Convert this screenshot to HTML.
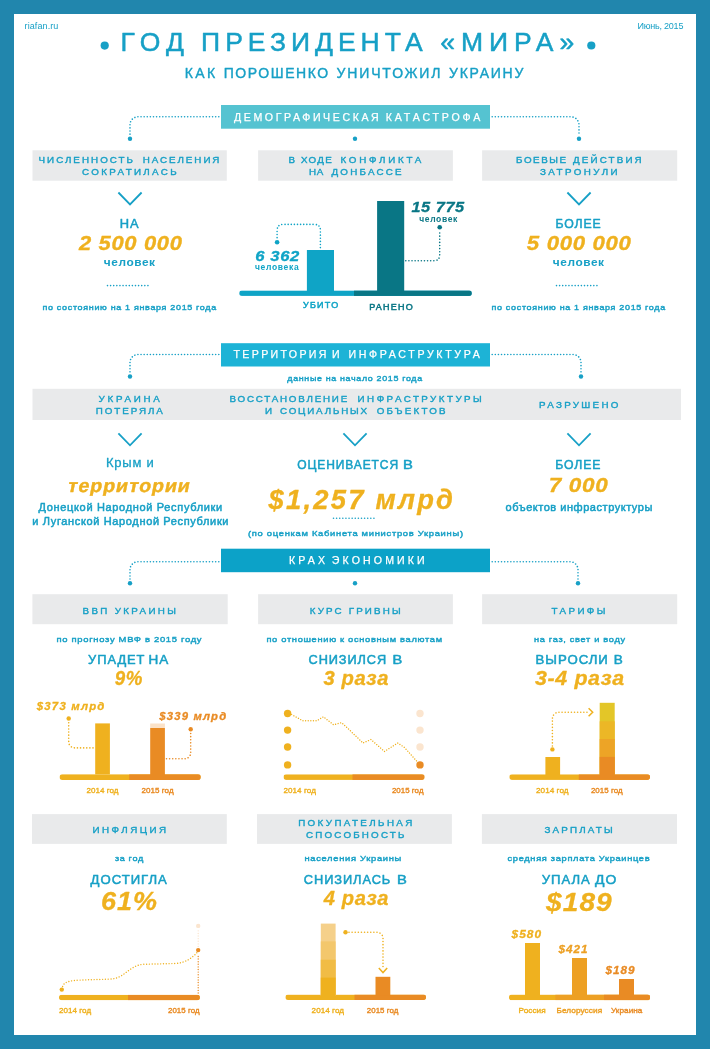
<!DOCTYPE html>
<html lang="ru"><head><meta charset="utf-8"><title>Год президента «мира»</title>
<style>html,body{margin:0;padding:0;background:#2186ad}svg{display:block;font-family:"Liberation Sans",sans-serif}text{white-space:pre}</style></head>
<body><svg width="710" height="1049" viewBox="0 0 710 1049">
<rect x="0" y="0" width="710" height="1049" fill="#2186ad"/>
<rect x="14" y="14" width="682" height="1021" fill="#fff"/>
<circle cx="104.7" cy="45.6" r="4.1" fill="#17a0c6"/>
<circle cx="591.3" cy="45.5" r="4.1" fill="#17a0c6"/>
<rect x="221" y="105" width="269" height="23.7" fill="#55c3d1"/>
<path d="M218.8 116.8 H138 A8 8 0 0 0 130 124.8 V135.8" fill="none" stroke="#17a0c6" stroke-width="1.6" stroke-linecap="round" stroke-dasharray="0.01 3.1"/>
<path d="M492.2 116.8 H571 A8 8 0 0 1 579 124.8 V135.8" fill="none" stroke="#17a0c6" stroke-width="1.6" stroke-linecap="round" stroke-dasharray="0.01 3.1"/>
<circle cx="130" cy="138.8" r="2.2" fill="#17a0c6"/>
<circle cx="355" cy="138.8" r="2.2" fill="#17a0c6"/>
<circle cx="579" cy="138.8" r="2.2" fill="#17a0c6"/>
<rect x="32.5" y="150.3" width="194.3" height="30.4" fill="#e9eaeb"/>
<rect x="258.1" y="150.3" width="194.8" height="30.4" fill="#e9eaeb"/>
<rect x="482.1" y="150.3" width="195.1" height="30.4" fill="#e9eaeb"/>
<path d="M118.4 192.5 L130 204.5 L141.6 192.5" fill="none" stroke="#17a0c6" stroke-width="1.8"/>
<path d="M567.4 192.5 L579 204.5 L590.6 192.5" fill="none" stroke="#17a0c6" stroke-width="1.8"/>
<path d="M107.5 285.6 H151" fill="none" stroke="#17a0c6" stroke-width="1.6" stroke-linecap="round" stroke-dasharray="0.01 3.1"/>
<path d="M556.5 285.6 H600" fill="none" stroke="#17a0c6" stroke-width="1.6" stroke-linecap="round" stroke-dasharray="0.01 3.1"/>
<clipPath id="c17"><rect x="239.2" y="290.4" width="232.6" height="5.5" rx="2.75"/></clipPath>
<g clip-path="url(#c17)"><rect x="239.2" y="290.4" width="232.6" height="5.5" fill="#0fa4c6"/><rect x="354" y="290.4" width="117.8" height="5.5" fill="#097685"/></g>
<rect x="306.9" y="250" width="27.1" height="41" fill="#0fa4c6"/>
<rect x="377.1" y="201" width="27.1" height="90" fill="#097685"/>
<path d="M320.4 247.6 V230.5 Q320.4 224.4 314.3 224.4 H283.2 Q277.1 224.4 277.1 230.5 V239" fill="none" stroke="#0fa4c6" stroke-width="1.6" stroke-linecap="round" stroke-dasharray="0.01 3.1"/>
<circle cx="277.1" cy="242.2" r="2.3" fill="#0fa4c6"/>
<path d="M405.8 260.8 H433.6 Q439.7 260.8 439.7 254.7 V230.5" fill="none" stroke="#097685" stroke-width="1.6" stroke-linecap="round" stroke-dasharray="0.01 3.1"/>
<circle cx="439.7" cy="227.2" r="2.3" fill="#097685"/>
<rect x="221" y="343.2" width="269" height="23.3" fill="#1db3d6"/>
<path d="M218.8 354.5 H138 A8 8 0 0 0 130 362.5 V373.5" fill="none" stroke="#17a0c6" stroke-width="1.6" stroke-linecap="round" stroke-dasharray="0.01 3.1"/>
<path d="M492.2 354.5 H573 A8 8 0 0 1 581 362.5 V373.5" fill="none" stroke="#17a0c6" stroke-width="1.6" stroke-linecap="round" stroke-dasharray="0.01 3.1"/>
<circle cx="130" cy="376.5" r="2.2" fill="#17a0c6"/>
<circle cx="581" cy="376.5" r="2.2" fill="#17a0c6"/>
<rect x="32.5" y="388.8" width="648.5" height="31.2" fill="#e9eaeb"/>
<path d="M118.4 433.3 L130 445.3 L141.6 433.3" fill="none" stroke="#17a0c6" stroke-width="1.8"/>
<path d="M343.4 433.3 L355 445.3 L366.6 433.3" fill="none" stroke="#17a0c6" stroke-width="1.8"/>
<path d="M567.4 433.3 L579 445.3 L590.6 433.3" fill="none" stroke="#17a0c6" stroke-width="1.8"/>
<path d="M333.5 518.2 H376" fill="none" stroke="#17a0c6" stroke-width="1.6" stroke-linecap="round" stroke-dasharray="0.01 3.1"/>
<rect x="221" y="548.7" width="269" height="23.5" fill="#0ca2c8"/>
<path d="M218.8 561.7 H138 A8 8 0 0 0 130 569.7 V580.3" fill="none" stroke="#17a0c6" stroke-width="1.6" stroke-linecap="round" stroke-dasharray="0.01 3.1"/>
<path d="M492.2 561.7 H570 A8 8 0 0 1 578 569.7 V580.3" fill="none" stroke="#17a0c6" stroke-width="1.6" stroke-linecap="round" stroke-dasharray="0.01 3.1"/>
<circle cx="130" cy="583.3" r="2.2" fill="#17a0c6"/>
<circle cx="355" cy="583.3" r="2.2" fill="#17a0c6"/>
<circle cx="578" cy="583.3" r="2.2" fill="#17a0c6"/>
<rect x="32.4" y="594.2" width="195.3" height="30" fill="#e9eaeb"/>
<rect x="258.1" y="594.2" width="194.8" height="30" fill="#e9eaeb"/>
<rect x="482.1" y="594.2" width="195.1" height="30" fill="#e9eaeb"/>
<clipPath id="c44"><rect x="59.5" y="774.2" width="141.3" height="5.8" rx="2.9"/></clipPath>
<g clip-path="url(#c44)"><rect x="59.5" y="774.2" width="141.3" height="5.8" fill="#efb11f"/><rect x="129.2" y="774.2" width="71.6" height="5.8" fill="#e98b24"/></g>
<rect x="95.2" y="723.4" width="14.7" height="51" fill="#efb11f"/>
<rect x="150.2" y="728" width="14.7" height="47" fill="#e98b24"/>
<rect x="150.2" y="723.5" width="14.7" height="4.5" fill="#fbe2c8"/>
<path d="M93 747.9 H74.7 A6 6 0 0 1 68.7 741.9 V722" fill="none" stroke="#efb11f" stroke-width="1.6" stroke-linecap="round" stroke-dasharray="0.01 3.1"/>
<circle cx="68.7" cy="718.5" r="2.2" fill="#efb11f"/>
<path d="M166.5 758.8 H184.7 A6 6 0 0 0 190.7 752.8 V732.5" fill="none" stroke="#e98b24" stroke-width="1.6" stroke-linecap="round" stroke-dasharray="0.01 3.1"/>
<circle cx="190.7" cy="729.2" r="2.2" fill="#e98b24"/>
<clipPath id="c53"><rect x="283.5" y="774.3" width="141.1" height="5.6" rx="2.8"/></clipPath>
<g clip-path="url(#c53)"><rect x="283.5" y="774.3" width="141.1" height="5.6" fill="#efb11f"/><rect x="352.5" y="774.3" width="72.1" height="5.6" fill="#e98b24"/></g>
<circle cx="287.6" cy="713.5" r="3.7" fill="#efb11f"/>
<circle cx="287.6" cy="730.1" r="3.7" fill="#efb11f"/>
<circle cx="287.6" cy="747" r="3.7" fill="#efb11f"/>
<circle cx="287.6" cy="764.9" r="3.7" fill="#efb11f"/>
<circle cx="420" cy="713.5" r="3.7" fill="#fbe5cf"/>
<circle cx="420" cy="730.1" r="3.7" fill="#fbe5cf"/>
<circle cx="420" cy="747" r="3.7" fill="#fbe5cf"/>
<circle cx="420" cy="764.9" r="3.7" fill="#e98b24"/>
<path d="M291.6 714.5 L302.8 720.8 L316.7 720.8 L323.4 716.8 L333.6 724.8 L341.6 722.6 L348.3 728.8 L363 743 L371 739.5 L384.4 751.5 L397.8 743 L404.5 747.5 L417.5 762" fill="none" stroke="#efb11f" stroke-width="1.4" stroke-linecap="round" stroke-dasharray="0.01 2.6"/>
<clipPath id="c64"><rect x="509.3" y="774.3" width="140.7" height="5.6" rx="2.8"/></clipPath>
<g clip-path="url(#c64)"><rect x="509.3" y="774.3" width="140.7" height="5.6" fill="#efb11f"/><rect x="578.8" y="774.3" width="71.2" height="5.6" fill="#e98b24"/></g>
<rect x="545.4" y="757" width="14.7" height="18" fill="#efb11f"/>
<rect x="599.7" y="702.8" width="15" height="72.2" fill="#e3c628"/>
<rect x="599.7" y="721.3" width="15" height="53.7" fill="#ecb726"/>
<rect x="599.7" y="739" width="15" height="36" fill="#eda426"/>
<rect x="599.7" y="756.9" width="15" height="18.1" fill="#e98b24"/>
<path d="M552.4 746 V718.7 A6.5 6.5 0 0 1 558.9 712.2 H587" fill="none" stroke="#efb11f" stroke-width="1.6" stroke-linecap="round" stroke-dasharray="0.01 3.1"/>
<circle cx="552.4" cy="749.4" r="2.2" fill="#efb11f"/>
<path d="M588.6 708.2 L592.7 712.2 L588.6 716.2" fill="none" stroke="#efb11f" stroke-width="1.5"/>
<rect x="32" y="814.1" width="194.8" height="29.8" fill="#e9eaeb"/>
<rect x="257" y="814.1" width="194.9" height="29.8" fill="#e9eaeb"/>
<rect x="481.9" y="814.1" width="195.1" height="29.8" fill="#e9eaeb"/>
<clipPath id="c77"><rect x="59" y="994.8" width="140.9" height="5.5" rx="2.75"/></clipPath>
<g clip-path="url(#c77)"><rect x="59" y="994.8" width="140.9" height="5.5" fill="#efb11f"/><rect x="128" y="994.8" width="71.9" height="5.5" fill="#e98b24"/></g>
<circle cx="61.8" cy="989.6" r="2.2" fill="#efb11f"/>
<path d="M62.6 986.5 C64 982 70 980.4 80 980.1 L110 979.1 C125 978.6 128 966 143 964.3 L175 963.5 C186 963.1 193 957 197 952.5" fill="none" stroke="#efb11f" stroke-width="1.4" stroke-linecap="round" stroke-dasharray="0.01 2.8"/>
<path d="M198.2 993 V954" fill="none" stroke="#e98b24" stroke-width="1.4" stroke-linecap="round" stroke-dasharray="0.01 2.6"/>
<circle cx="198.2" cy="950.1" r="2.2" fill="#e98b24"/>
<path d="M198.2 946.5 V929" fill="none" stroke="#fbe5cf" stroke-width="1.4" stroke-linecap="round" stroke-dasharray="0.01 2.6"/>
<circle cx="198.2" cy="925.9" r="2.2" fill="#fbe5cf"/>
<clipPath id="c85"><rect x="285.4" y="994.6" width="140.6" height="5.4" rx="2.7"/></clipPath>
<g clip-path="url(#c85)"><rect x="285.4" y="994.6" width="140.6" height="5.4" fill="#efb11f"/><rect x="354.5" y="994.6" width="71.5" height="5.4" fill="#e98b24"/></g>
<rect x="320.8" y="923.6" width="14.8" height="72.4" fill="#f5d08a"/>
<rect x="320.8" y="941.4" width="14.8" height="54.6" fill="#f3c76c"/>
<rect x="320.8" y="959.7" width="14.8" height="36.3" fill="#f1bc45"/>
<rect x="320.8" y="977.6" width="14.8" height="18.4" fill="#efb11f"/>
<rect x="375.5" y="976.8" width="14.8" height="19" fill="#e98b24"/>
<path d="M349 932.3 H377 A6 6 0 0 1 383 938.3 V967" fill="none" stroke="#efb11f" stroke-width="1.6" stroke-linecap="round" stroke-dasharray="0.01 3.1"/>
<circle cx="345.5" cy="932.3" r="2.2" fill="#efb11f"/>
<path d="M378.8 968 L383 972.6 L387.2 968" fill="none" stroke="#efb11f" stroke-width="1.5"/>
<clipPath id="c95"><rect x="509" y="994.6" width="141" height="5.6" rx="2.8"/></clipPath>
<g clip-path="url(#c95)"><rect x="509" y="994.6" width="141" height="5.6" fill="#efb11f"/><rect x="555.4" y="994.6" width="94.6" height="5.6" fill="#eda024"/><rect x="604" y="994.6" width="46" height="5.6" fill="#e98b24"/></g>
<rect x="525" y="943" width="15" height="53" fill="#efb11f"/>
<rect x="572" y="958" width="15" height="38" fill="#eda024"/>
<rect x="619" y="979" width="15" height="17" fill="#e98b24"/>
<text x="24.60" y="29" font-size="9" fill="#17a0c6" letter-spacing="0.087">riafan.ru</text>
<text x="637.50" y="29" font-size="9" fill="#17a0c6" letter-spacing="-0.222">Июнь, 2015</text>
<text x="120.50" y="51.4" font-size="26.5" fill="#17a0c6" stroke="#17a0c6" stroke-width="0.5" stroke-linejoin="round" letter-spacing="6.300">ГОД</text>
<text x="201.10" y="51.4" font-size="26.5" fill="#17a0c6" stroke="#17a0c6" stroke-width="0.5" stroke-linejoin="round" letter-spacing="5.000">ПРЕЗИДЕНТА</text>
<text x="440.30" y="51.4" font-size="26.5" fill="#17a0c6" stroke="#17a0c6" stroke-width="0.5" stroke-linejoin="round" letter-spacing="5.940">«МИРА»</text>
<text x="184.70" y="78" font-size="14" fill="#17a0c6" stroke="#17a0c6" stroke-width="0.4" stroke-linejoin="round" letter-spacing="2.400">КАК</text>
<text x="223.70" y="78" font-size="14" fill="#17a0c6" stroke="#17a0c6" stroke-width="0.4" stroke-linejoin="round" letter-spacing="1.550">ПОРОШЕНКО</text>
<text x="336.50" y="78" font-size="14" fill="#17a0c6" stroke="#17a0c6" stroke-width="0.4" stroke-linejoin="round" letter-spacing="1.862">УНИЧТОЖИЛ</text>
<text x="449.10" y="78" font-size="14" fill="#17a0c6" stroke="#17a0c6" stroke-width="0.4" stroke-linejoin="round" letter-spacing="1.733">УКРАИНУ</text>
<text x="234.00" y="121" font-size="10.6" fill="#fff" stroke="#fff" stroke-width="0.25" stroke-linejoin="round" letter-spacing="2.593">ДЕМОГРАФИЧЕСКАЯ</text>
<text x="385.80" y="121" font-size="10.6" fill="#fff" stroke="#fff" stroke-width="0.25" stroke-linejoin="round" letter-spacing="2.822">КАТАСТРОФА</text>
<text x="38.50" y="163" font-size="9.8" fill="#17a0c6" stroke="#17a0c6" stroke-width="0.4" stroke-linejoin="round" letter-spacing="2.030">ЧИСЛЕННОСТЬ</text>
<text x="142.70" y="163" font-size="9.8" fill="#17a0c6" stroke="#17a0c6" stroke-width="0.4" stroke-linejoin="round" letter-spacing="1.950">НАСЕЛЕНИЯ</text>
<text x="82.10" y="175" font-size="9.8" fill="#17a0c6" stroke="#17a0c6" stroke-width="0.4" stroke-linejoin="round" letter-spacing="2.340">СОКРАТИЛАСЬ</text>
<text x="288.40" y="163" font-size="9.8" fill="#17a0c6" stroke="#17a0c6" stroke-width="0.4" stroke-linejoin="round" letter-spacing="0.000">В</text>
<text x="301.00" y="163" font-size="9.8" fill="#17a0c6" stroke="#17a0c6" stroke-width="0.4" stroke-linejoin="round" letter-spacing="1.333">ХОДЕ</text>
<text x="340.50" y="163" font-size="9.8" fill="#17a0c6" stroke="#17a0c6" stroke-width="0.4" stroke-linejoin="round" letter-spacing="2.763">КОНФЛИКТА</text>
<text x="309.00" y="175" font-size="9.8" fill="#17a0c6" stroke="#17a0c6" stroke-width="0.4" stroke-linejoin="round" letter-spacing="0.600">НА</text>
<text x="331.50" y="175" font-size="9.8" fill="#17a0c6" stroke="#17a0c6" stroke-width="0.4" stroke-linejoin="round" letter-spacing="2.214">ДОНБАССЕ</text>
<text x="516.00" y="163" font-size="9.8" fill="#17a0c6" stroke="#17a0c6" stroke-width="0.4" stroke-linejoin="round" letter-spacing="1.580">БОЕВЫЕ</text>
<text x="573.00" y="163" font-size="9.8" fill="#17a0c6" stroke="#17a0c6" stroke-width="0.4" stroke-linejoin="round" letter-spacing="2.157">ДЕЙСТВИЯ</text>
<text x="540.00" y="175" font-size="9.8" fill="#17a0c6" stroke="#17a0c6" stroke-width="0.4" stroke-linejoin="round" letter-spacing="2.438">ЗАТРОНУЛИ</text>
<text transform="translate(119.65 228) scale(1.0473 1)" font-size="12.3" fill="#17a0c6" stroke="#17a0c6" stroke-width="0.5" stroke-linejoin="round" letter-spacing="0.900">НА</text>
<text transform="translate(78.93 250.3) scale(1.1261 1)" font-size="19.5" font-weight="bold" font-style="italic" fill="#efb11f" stroke="#efb11f" stroke-width="0.3" stroke-linejoin="round" letter-spacing="0.600">2 500 000</text>
<text transform="translate(103.80 265.7) scale(1.1022 1)" font-size="10.8" font-weight="bold" fill="#17a0c6" letter-spacing="0.500">человек</text>
<text transform="translate(42.50 309.6) scale(1.1097 1)" font-size="8.1" fill="#17a0c6" stroke="#17a0c6" stroke-width="0.42" stroke-linejoin="round" letter-spacing="0.600">по состоянию на 1 января 2015 года</text>
<text transform="translate(555.50 228) scale(0.9978 1)" font-size="12.3" fill="#17a0c6" stroke="#17a0c6" stroke-width="0.5" stroke-linejoin="round" letter-spacing="0.900">БОЛЕЕ</text>
<text transform="translate(526.80 250.3) scale(1.1383 1)" font-size="19.5" font-weight="bold" font-style="italic" fill="#efb11f" stroke="#efb11f" stroke-width="0.3" stroke-linejoin="round" letter-spacing="0.600">5 000 000</text>
<text transform="translate(552.80 265.7) scale(1.1022 1)" font-size="10.8" font-weight="bold" fill="#17a0c6" letter-spacing="0.500">человек</text>
<text transform="translate(491.50 309.6) scale(1.1097 1)" font-size="8.1" fill="#17a0c6" stroke="#17a0c6" stroke-width="0.42" stroke-linejoin="round" letter-spacing="0.600">по состоянию на 1 января 2015 года</text>
<text transform="translate(255.30 260.5) scale(1.1256 1)" font-size="14.8" font-weight="bold" font-style="italic" fill="#0fa4c6" stroke="#0fa4c6" stroke-width="0.3" stroke-linejoin="round" letter-spacing="0.500">6 362</text>
<text x="254.90" y="270" font-size="8.5" font-weight="bold" fill="#0fa4c6" letter-spacing="0.686">человека</text>
<text transform="translate(411.40 212) scale(1.1052 1)" font-size="14.8" font-weight="bold" font-style="italic" fill="#097685" stroke="#097685" stroke-width="0.3" stroke-linejoin="round" letter-spacing="0.500">15 775</text>
<text x="419.20" y="221.5" font-size="8.5" font-weight="bold" fill="#097685" letter-spacing="0.650">человек</text>
<text x="302.90" y="308" font-size="9" fill="#0fa4c6" stroke="#0fa4c6" stroke-width="0.5" stroke-linejoin="round" letter-spacing="1.275">УБИТО</text>
<text x="369.20" y="310" font-size="9" fill="#097685" stroke="#097685" stroke-width="0.5" stroke-linejoin="round" letter-spacing="1.220">РАНЕНО</text>
<text x="233.50" y="358" font-size="10.6" fill="#fff" stroke="#fff" stroke-width="0.25" stroke-linejoin="round" letter-spacing="2.344">ТЕРРИТОРИЯ</text>
<text x="332.10" y="358" font-size="10.6" fill="#fff" stroke="#fff" stroke-width="0.25" stroke-linejoin="round" letter-spacing="0.000">И</text>
<text x="348.40" y="358" font-size="10.6" fill="#fff" stroke="#fff" stroke-width="0.25" stroke-linejoin="round" letter-spacing="2.677">ИНФРАСТРУКТУРА</text>
<text transform="translate(287.30 380.5) scale(1.1008 1)" font-size="8.1" fill="#17a0c6" stroke="#17a0c6" stroke-width="0.42" stroke-linejoin="round" letter-spacing="0.600">данные на начало 2015 года</text>
<text x="98.60" y="402" font-size="9.8" fill="#17a0c6" stroke="#17a0c6" stroke-width="0.4" stroke-linejoin="round" letter-spacing="2.683">УКРАИНА</text>
<text x="95.70" y="414" font-size="9.8" fill="#17a0c6" stroke="#17a0c6" stroke-width="0.4" stroke-linejoin="round" letter-spacing="1.943">ПОТЕРЯЛА</text>
<text x="229.50" y="402" font-size="9.8" fill="#17a0c6" stroke="#17a0c6" stroke-width="0.4" stroke-linejoin="round" letter-spacing="1.777">ВОССТАНОВЛЕНИЕ</text>
<text x="357.60" y="402" font-size="9.8" fill="#17a0c6" stroke="#17a0c6" stroke-width="0.4" stroke-linejoin="round" letter-spacing="2.462">ИНФРАСТРУКТУРЫ</text>
<text x="264.90" y="414" font-size="9.8" fill="#17a0c6" stroke="#17a0c6" stroke-width="0.4" stroke-linejoin="round" letter-spacing="0.000">И</text>
<text x="280.00" y="414" font-size="9.8" fill="#17a0c6" stroke="#17a0c6" stroke-width="0.4" stroke-linejoin="round" letter-spacing="1.822">СОЦИАЛЬНЫХ</text>
<text x="376.70" y="414" font-size="9.8" fill="#17a0c6" stroke="#17a0c6" stroke-width="0.4" stroke-linejoin="round" letter-spacing="2.200">ОБЪЕКТОВ</text>
<text x="539.00" y="408" font-size="9.8" fill="#17a0c6" stroke="#17a0c6" stroke-width="0.4" stroke-linejoin="round" letter-spacing="2.312">РАЗРУШЕНО</text>
<text x="106.00" y="467" font-size="13" fill="#17a0c6" stroke="#17a0c6" stroke-width="0.3" stroke-linejoin="round" letter-spacing="0.760">Крым и</text>
<text transform="translate(67.08 492) skewX(-11) scale(1.0578 1)" font-size="18.6" font-weight="bold" fill="#efb11f" stroke="#efb11f" stroke-width="0.4" stroke-linejoin="round" letter-spacing="0.800">территории</text>
<text x="38.50" y="511" font-size="11" fill="#17a0c6" stroke="#17a0c6" stroke-width="0.5" stroke-linejoin="round" letter-spacing="0.667">Донецкой Народной Республики</text>
<text x="32.30" y="525" font-size="11" fill="#17a0c6" stroke="#17a0c6" stroke-width="0.5" stroke-linejoin="round" letter-spacing="0.640">и Луганской Народной Республики</text>
<text transform="translate(297.30 469) scale(0.9786 1)" font-size="12.3" fill="#17a0c6" stroke="#17a0c6" stroke-width="0.5" stroke-linejoin="round" letter-spacing="0.900">ОЦЕНИВАЕТСЯ</text>
<text transform="translate(403.10 469) scale(1.2000 1)" font-size="12.3" fill="#17a0c6" stroke="#17a0c6" stroke-width="0.5" stroke-linejoin="round" letter-spacing="0.900">В</text>
<text transform="translate(268.60 509) scale(1.0133 1)" font-size="27" font-weight="bold" font-style="italic" fill="#efb11f" stroke="#efb11f" stroke-width="0.3" stroke-linejoin="round" letter-spacing="2.200">$1,257 млрд</text>
<text transform="translate(248.00 535.5) scale(1.1602 1)" font-size="8.1" fill="#17a0c6" stroke="#17a0c6" stroke-width="0.42" stroke-linejoin="round" letter-spacing="0.600">(по оценкам Кабинета министров Украины)</text>
<text transform="translate(555.30 469) scale(0.9955 1)" font-size="12.3" fill="#17a0c6" stroke="#17a0c6" stroke-width="0.5" stroke-linejoin="round" letter-spacing="0.900">БОЛЕЕ</text>
<text transform="translate(548.65 492) scale(1.1548 1)" font-size="19.5" font-weight="bold" font-style="italic" fill="#efb11f" stroke="#efb11f" stroke-width="0.3" stroke-linejoin="round" letter-spacing="0.600">7 000</text>
<text x="505.60" y="511" font-size="11" fill="#17a0c6" stroke="#17a0c6" stroke-width="0.5" stroke-linejoin="round" letter-spacing="0.536">объектов инфраструктуры</text>
<text x="288.90" y="564" font-size="10.6" fill="#fff" stroke="#fff" stroke-width="0.25" stroke-linejoin="round" letter-spacing="3.167">КРАХ</text>
<text x="331.80" y="564" font-size="10.6" fill="#fff" stroke="#fff" stroke-width="0.25" stroke-linejoin="round" letter-spacing="3.112">ЭКОНОМИКИ</text>
<text x="82.50" y="613.8" font-size="9.8" fill="#17a0c6" stroke="#17a0c6" stroke-width="0.4" stroke-linejoin="round" letter-spacing="2.350">ВВП УКРАИНЫ</text>
<text x="309.70" y="613.8" font-size="9.8" fill="#17a0c6" stroke="#17a0c6" stroke-width="0.4" stroke-linejoin="round" letter-spacing="2.150">КУРС ГРИВНЫ</text>
<text x="551.50" y="613.8" font-size="9.8" fill="#17a0c6" stroke="#17a0c6" stroke-width="0.4" stroke-linejoin="round" letter-spacing="2.400">ТАРИФЫ</text>
<text transform="translate(56.50 642.3) scale(1.1637 1)" font-size="8.1" fill="#17a0c6" stroke="#17a0c6" stroke-width="0.42" stroke-linejoin="round" letter-spacing="0.600">по прогнозу МВФ в 2015 году</text>
<text transform="translate(266.40 642.3) scale(1.1477 1)" font-size="8.1" fill="#17a0c6" stroke="#17a0c6" stroke-width="0.42" stroke-linejoin="round" letter-spacing="0.600">по отношению к основным валютам</text>
<text transform="translate(534.00 642.3) scale(1.1404 1)" font-size="8.1" fill="#17a0c6" stroke="#17a0c6" stroke-width="0.42" stroke-linejoin="round" letter-spacing="0.600">на газ, свет и воду</text>
<text transform="translate(88.10 664) scale(1.0486 1)" font-size="12.3" fill="#17a0c6" stroke="#17a0c6" stroke-width="0.5" stroke-linejoin="round" letter-spacing="0.900">УПАДЕТ</text>
<text transform="translate(148.50 664) scale(1.1006 1)" font-size="12.3" fill="#17a0c6" stroke="#17a0c6" stroke-width="0.5" stroke-linejoin="round" letter-spacing="0.900">НА</text>
<text transform="translate(114.80 685) scale(0.9580 1)" font-size="19.5" font-weight="bold" font-style="italic" fill="#efb11f" stroke="#efb11f" stroke-width="0.3" stroke-linejoin="round" letter-spacing="0.600">9%</text>
<text transform="translate(308.50 664) scale(1.0363 1)" font-size="12.3" fill="#17a0c6" stroke="#17a0c6" stroke-width="0.5" stroke-linejoin="round" letter-spacing="0.900">СНИЗИЛСЯ</text>
<text transform="translate(392.51 664) scale(1.1857 1)" font-size="12.3" fill="#17a0c6" stroke="#17a0c6" stroke-width="0.5" stroke-linejoin="round" letter-spacing="0.900">В</text>
<text transform="translate(323.40 685) scale(1.0371 1)" font-size="19.5" font-weight="bold" font-style="italic" fill="#efb11f" stroke="#efb11f" stroke-width="0.3" stroke-linejoin="round" letter-spacing="0.600">3 раза</text>
<text transform="translate(535.53 664) scale(1.0734 1)" font-size="12.3" fill="#17a0c6" stroke="#17a0c6" stroke-width="0.5" stroke-linejoin="round" letter-spacing="0.900">ВЫРОСЛИ</text>
<text transform="translate(613.80 664) scale(1.1000 1)" font-size="12.3" fill="#17a0c6" stroke="#17a0c6" stroke-width="0.5" stroke-linejoin="round" letter-spacing="0.900">В</text>
<text transform="translate(535.00 685) scale(1.0961 1)" font-size="19.5" font-weight="bold" font-style="italic" fill="#efb11f" stroke="#efb11f" stroke-width="0.3" stroke-linejoin="round" letter-spacing="0.600">3-4 раза</text>
<text transform="translate(36.80 709.5) scale(0.9927 1)" font-size="11.5" font-weight="bold" font-style="italic" fill="#efb11f" stroke="#efb11f" stroke-width="0.3" stroke-linejoin="round" letter-spacing="1.200">$373 млрд</text>
<text transform="translate(159.30 720) scale(0.9825 1)" font-size="11.5" font-weight="bold" font-style="italic" fill="#e98b24" stroke="#e98b24" stroke-width="0.3" stroke-linejoin="round" letter-spacing="1.200">$339 млрд</text>
<text transform="translate(86.40 793) scale(1.0015 1)" font-size="8" fill="#efb11f" stroke="#efb11f" stroke-width="0.38" stroke-linejoin="round" letter-spacing="0.050">2014 год</text>
<text transform="translate(141.50 793) scale(1.0015 1)" font-size="8" fill="#e98b24" stroke="#e98b24" stroke-width="0.38" stroke-linejoin="round" letter-spacing="0.050">2015 год</text>
<text transform="translate(283.50 793) scale(1.0108 1)" font-size="8" fill="#efb11f" stroke="#efb11f" stroke-width="0.38" stroke-linejoin="round" letter-spacing="0.050">2014 год</text>
<text transform="translate(391.90 793) scale(0.9861 1)" font-size="8" fill="#e98b24" stroke="#e98b24" stroke-width="0.38" stroke-linejoin="round" letter-spacing="0.050">2015 год</text>
<text transform="translate(536.00 793) scale(1.0170 1)" font-size="8" fill="#efb11f" stroke="#efb11f" stroke-width="0.38" stroke-linejoin="round" letter-spacing="0.050">2014 год</text>
<text transform="translate(590.90 793) scale(0.9923 1)" font-size="8" fill="#e98b24" stroke="#e98b24" stroke-width="0.38" stroke-linejoin="round" letter-spacing="0.050">2015 год</text>
<text x="92.50" y="833" font-size="9.8" fill="#17a0c6" stroke="#17a0c6" stroke-width="0.4" stroke-linejoin="round" letter-spacing="2.500">ИНФЛЯЦИЯ</text>
<text x="298.20" y="826" font-size="9.8" fill="#17a0c6" stroke="#17a0c6" stroke-width="0.4" stroke-linejoin="round" letter-spacing="2.383">ПОКУПАТЕЛЬНАЯ</text>
<text x="306.10" y="838" font-size="9.8" fill="#17a0c6" stroke="#17a0c6" stroke-width="0.4" stroke-linejoin="round" letter-spacing="2.180">СПОСОБНОСТЬ</text>
<text x="544.50" y="833" font-size="9.8" fill="#17a0c6" stroke="#17a0c6" stroke-width="0.4" stroke-linejoin="round" letter-spacing="2.171">ЗАРПЛАТЫ</text>
<text transform="translate(114.90 861) scale(1.1200 1)" font-size="8.1" fill="#17a0c6" stroke="#17a0c6" stroke-width="0.42" stroke-linejoin="round" letter-spacing="0.600">за год</text>
<text transform="translate(304.40 861) scale(1.1555 1)" font-size="8.1" fill="#17a0c6" stroke="#17a0c6" stroke-width="0.42" stroke-linejoin="round" letter-spacing="0.600">населения Украины</text>
<text transform="translate(507.50 861) scale(1.1452 1)" font-size="8.1" fill="#17a0c6" stroke="#17a0c6" stroke-width="0.42" stroke-linejoin="round" letter-spacing="0.600">средняя зарплата Украинцев</text>
<text transform="translate(90.60 884) scale(1.0701 1)" font-size="12.3" fill="#17a0c6" stroke="#17a0c6" stroke-width="0.5" stroke-linejoin="round" letter-spacing="0.900">ДОСТИГЛА</text>
<text transform="translate(100.94 910) scale(1.0577 1)" font-size="25.5" font-weight="bold" font-style="italic" fill="#efb11f" stroke="#efb11f" stroke-width="0.3" stroke-linejoin="round" letter-spacing="1.000">61%</text>
<text transform="translate(303.80 884) scale(1.0421 1)" font-size="12.3" fill="#17a0c6" stroke="#17a0c6" stroke-width="0.5" stroke-linejoin="round" letter-spacing="0.900">СНИЗИЛАСЬ</text>
<text transform="translate(396.90 884) scale(1.2000 1)" font-size="12.3" fill="#17a0c6" stroke="#17a0c6" stroke-width="0.5" stroke-linejoin="round" letter-spacing="0.900">В</text>
<text transform="translate(323.73 905) scale(1.0317 1)" font-size="19.5" font-weight="bold" font-style="italic" fill="#efb11f" stroke="#efb11f" stroke-width="0.3" stroke-linejoin="round" letter-spacing="0.600">4 раза</text>
<text transform="translate(541.80 884) scale(1.0680 1)" font-size="12.3" fill="#17a0c6" stroke="#17a0c6" stroke-width="0.5" stroke-linejoin="round" letter-spacing="0.900">УПАЛА</text>
<text transform="translate(595.10 884) scale(1.1323 1)" font-size="12.3" fill="#17a0c6" stroke="#17a0c6" stroke-width="0.5" stroke-linejoin="round" letter-spacing="0.900">ДО</text>
<text transform="translate(546.00 911) scale(1.1000 1)" font-size="25.5" font-weight="bold" font-style="italic" fill="#efb11f" stroke="#efb11f" stroke-width="0.3" stroke-linejoin="round" letter-spacing="1.000">$189</text>
<text transform="translate(59.00 1013) scale(1.0015 1)" font-size="8" fill="#efb11f" stroke="#efb11f" stroke-width="0.38" stroke-linejoin="round" letter-spacing="0.050">2014 год</text>
<text transform="translate(168.00 1013) scale(0.9861 1)" font-size="8" fill="#e98b24" stroke="#e98b24" stroke-width="0.38" stroke-linejoin="round" letter-spacing="0.050">2015 год</text>
<text transform="translate(311.60 1013) scale(1.0108 1)" font-size="8" fill="#efb11f" stroke="#efb11f" stroke-width="0.38" stroke-linejoin="round" letter-spacing="0.050">2014 год</text>
<text transform="translate(366.80 1013) scale(0.9861 1)" font-size="8" fill="#e98b24" stroke="#e98b24" stroke-width="0.38" stroke-linejoin="round" letter-spacing="0.050">2015 год</text>
<text transform="translate(511.50 938.3) scale(1.0172 1)" font-size="11.7" font-weight="bold" font-style="italic" fill="#efb11f" stroke="#efb11f" stroke-width="0.3" stroke-linejoin="round" letter-spacing="1.000">$580</text>
<text x="558.50" y="953.2" font-size="11.7" font-weight="bold" font-style="italic" fill="#eda024" stroke="#eda024" stroke-width="0.3" stroke-linejoin="round" letter-spacing="1.000">$421</text>
<text x="605.50" y="974" font-size="11.7" font-weight="bold" font-style="italic" fill="#e98b24" stroke="#e98b24" stroke-width="0.3" stroke-linejoin="round" letter-spacing="1.000">$189</text>
<text transform="translate(518.50 1013) scale(1.0286 1)" font-size="8" fill="#efb11f" stroke="#efb11f" stroke-width="0.38" stroke-linejoin="round" letter-spacing="0.050">Россия</text>
<text transform="translate(556.50 1013) scale(1.0349 1)" font-size="8" fill="#eda024" stroke="#eda024" stroke-width="0.38" stroke-linejoin="round" letter-spacing="0.050">Белоруссия</text>
<text transform="translate(611.00 1013) scale(1.0224 1)" font-size="8" fill="#e98b24" stroke="#e98b24" stroke-width="0.38" stroke-linejoin="round" letter-spacing="0.050">Украина</text>
</svg></body></html>
